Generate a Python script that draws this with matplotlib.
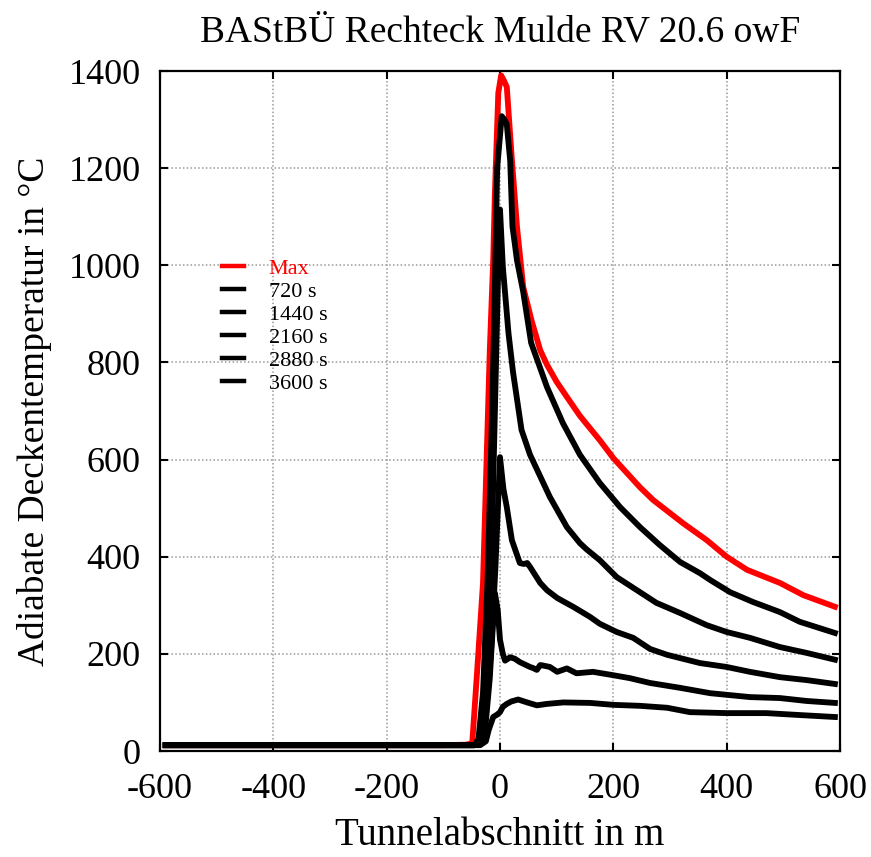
import matplotlib
matplotlib.use("Agg")
import matplotlib.pyplot as plt

# ceiling temperature along the tunnel
x_max = [-590, -300, -100, -60, -49, -40, -30, -18, -12, -9, -3, 2, 7, 12, 21, 30, 41, 56, 71, 83,
         100, 118, 141, 176, 200, 247, 270, 323, 365, 400, 436, 494, 535, 591]
t_max = [12, 12, 12, 13, 16, 170, 346, 826, 1011, 1149, 1355, 1391, 1380, 1367, 1217, 1079, 955, 885, 825, 795,
         760, 729, 690, 640, 603, 543, 517, 469, 434, 400, 373, 346, 321, 297]

x_3600 = [-590, -300, -100, -45, -38, -30, -22, -15, -10, -5, 3, 8, 12, 18, 22, 30, 41, 55, 83, 111,
          141, 176, 212, 247, 282, 318, 353, 371, 406, 446, 494, 529, 591]
t_3600 = [12, 12, 12, 12, 25, 120, 350, 650, 900, 1200, 1307, 1300, 1290, 1215, 1080, 1010, 945, 840, 749, 675,
          610, 552, 502, 461, 424, 389, 366, 352, 327, 307, 286, 266, 243]

x_2880 = [-590, -300, -100, -45, -35, -25, -15, -8, -3, 0, 5, 15, 23, 38, 53, 88, 118, 141, 153,
          176, 206, 247, 276, 318, 365, 400, 441, 494, 541, 591]
t_2880 = [12, 12, 12, 12, 25, 120, 400, 750, 1000, 1115, 997, 860, 780, 661, 610, 523, 461, 428, 415,
          393, 358, 327, 305, 284, 259, 245, 233, 214, 202, 188]

x_2160 = [-590, -300, -100, -45, -35, -25, -15, -8, -3, 0, 6, 12, 21, 35, 42, 48, 53, 71, 83, 101, 118,
          129, 159, 176, 206, 235, 265, 295, 353, 400, 441, 494, 541, 591]
t_2160 = [12, 12, 12, 12, 20, 70, 220, 380, 520, 605, 540, 502, 434, 387, 385, 387, 379, 346, 331, 315, 304,
          297, 276, 262, 245, 233, 210, 198, 181, 173, 163, 152, 146, 138]

x_1440 = [-590, -300, -100, -45, -35, -25, -18, -13, -9, -4, 0, 5, 9, 18, 26, 35, 53, 58, 65, 71, 76, 88,
          101, 118, 135, 164, 200, 229, 265, 318, 371, 441, 494, 541, 591]
t_1440 = [12, 12, 12, 12, 18, 60, 150, 250, 325, 290, 229, 200, 186, 193, 190, 183, 173, 171, 167, 177, 176, 173,
          163, 170, 160, 163, 156, 150, 140, 130, 119, 111, 109, 103, 99]

x_720 = [-590, -300, -100, -45, -35, -25, -20, -12, -5, 0, 5, 12, 20, 32, 48, 65, 83, 112, 159, 200,
         247, 295, 335, 400, 470, 529, 591]
t_720 = [12, 12, 12, 12, 12, 20, 43, 70, 75, 80, 91, 97, 102, 106, 100, 94, 97, 100, 99, 95,
         93, 89, 80, 78, 78, 74, 70]

times = ["720 s", "1440 s", "2160 s", "2880 s", "3600 s"]
series = [(x_720, t_720), (x_1440, t_1440), (x_2160, t_2160), (x_2880, t_2880), (x_3600, t_3600)]

plt.rcParams["font.family"] = ["Liberation Serif", "DejaVu Serif"]
plt.rcParams["axes.unicode_minus"] = False

fig = plt.figure(figsize=(8.71, 8.57), dpi=100)
ax = fig.add_axes([160 / 871, 1 - 751 / 857, 680 / 871, 680 / 857])

lw = 4.2
ax.plot(x_max, t_max, color="#ff0000", lw=lw, label="Max", solid_joinstyle="round")
for lab, (xs, ts) in zip(times, series):
    ax.plot(xs, ts, color="black", lw=lw, label=lab, solid_joinstyle="round")

ax.set_xlim(-600, 600)
ax.set_ylim(0, 1400)
ax.set_xticks(range(-600, 601, 200))
ax.set_yticks(range(0, 1401, 200))
ax.grid(True, color="#999999", lw=1.1, linestyle=(0, (1, 1.5)))
ax.set_axisbelow(True)

ax.tick_params(direction="in", length=6, width=1.5, labelsize=26, top=True, right=True)
ax.tick_params(axis="y", pad=14)
ax.tick_params(axis="x", pad=16)
for sp in ax.spines.values():
    sp.set_linewidth(1.6)

ax.set_title("BAStBÜ Rechteck Mulde RV 20.6 owF", fontsize=27, pad=21)
ax.set_xlabel("Tunnelabschnitt in m", fontsize=28, labelpad=8)
ax.set_ylabel("Adiabate Deckentemperatur in °C", fontsize=27, labelpad=12)

leg = ax.legend(loc="upper left", bbox_to_anchor=(0.091, 0.724), frameon=False, fontsize=16,
                handlelength=1.0, handletextpad=1.1, labelspacing=0.11, borderpad=0, borderaxespad=0,
                labelcolor="linecolor")
for h in leg.get_lines():
    h.set_linewidth(3.2)

fig.savefig("out.png", dpi=100)
